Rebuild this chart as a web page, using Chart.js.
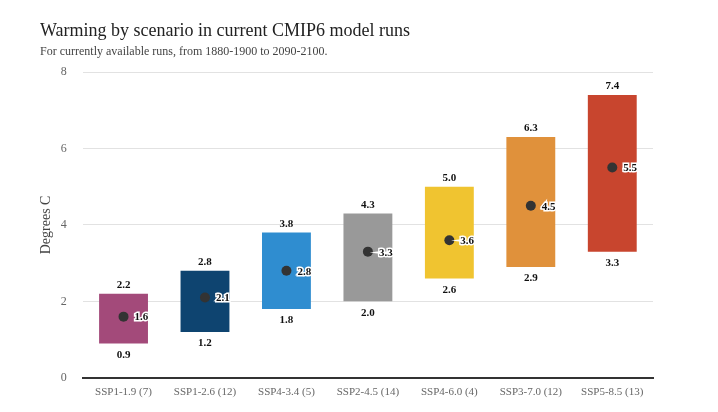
<!DOCTYPE html>
<html>
<head>
<meta charset="utf-8">
<script src="https://cdn.jsdelivr.net/npm/chart.js@4"></script>
<style>
  html, body { margin: 0; padding: 0; background: #fff; }
  #wrap { width: 718px; height: 412px; position: relative; }
</style>
</head>
<body>
<div id="wrap"><canvas id="warmingChart"></canvas></div>
<script>
const scenarios = ['SSP1-1.9 (7)', 'SSP1-2.6 (12)', 'SSP4-3.4 (5)', 'SSP2-4.5 (14)', 'SSP4-6.0 (4)', 'SSP3-7.0 (12)', 'SSP5-8.5 (13)'];
const lowValues = [0.9, 1.2, 1.8, 2.0, 2.6, 2.9, 3.3];
const highValues = [2.2, 2.8, 3.8, 4.3, 5.0, 6.3, 7.4];
const meanValues = [1.6, 2.1, 2.8, 3.3, 3.6, 4.5, 5.5];
const barColors = ['#a34a7a', '#0e4470', '#2f8dd0', '#999999', '#f0c430', '#e0913b', '#c8452e'];

const serif = '"Liberation Serif", "DejaVu Serif", serif';

// min / max / mean labels
const valueLabels = {
    id: 'valueLabels',
    afterDatasetsDraw(chart) {
        const ctx = chart.ctx;
        const bars = chart.getDatasetMeta(0).data;
        const dots = chart.getDatasetMeta(1).data;
        ctx.save();
        ctx.font = 'bold 11px ' + serif;
        ctx.textAlign = 'center';
        ctx.fillStyle = '#111';
        bars.forEach((bar, i) => {
            ctx.textBaseline = 'bottom';
            ctx.fillText(highValues[i].toFixed(1), bar.x, bar.y - 3);
            ctx.textBaseline = 'top';
            ctx.fillText(lowValues[i].toFixed(1), bar.x, bar.base + 6);
        });
        ctx.textAlign = 'left';
        ctx.textBaseline = 'middle';
        ctx.lineWidth = 3;
        ctx.strokeStyle = '#fff';
        dots.forEach((pt, i) => {
            const t = meanValues[i].toFixed(1);
            ctx.strokeText(t, pt.x + 11, pt.y + 1);
            ctx.fillText(t, pt.x + 11, pt.y + 1);
        });
        ctx.restore();
    }
};

new Chart(document.getElementById('warmingChart'), {
    type: 'bar',
    data: {
        labels: scenarios,
        datasets: [
            {
                label: 'Range',
                data: lowValues.map((v, i) => [v, highValues[i]]),
                backgroundColor: barColors,
                borderWidth: 0,
                categoryPercentage: 1,
                barPercentage: 0.6,
                order: 2
            },
            {
                type: 'line',
                label: 'Mean',
                data: meanValues,
                showLine: false,
                pointRadius: 5,
                pointHoverRadius: 5,
                pointBackgroundColor: '#333',
                pointBorderWidth: 0,
                order: 1
            }
        ]
    },
    options: {
        responsive: true,
        maintainAspectRatio: false,
        animation: false,
        layout: {
            padding: { left: 40, right: 65, top: 10, bottom: 5 }
        },
        plugins: {
            legend: { display: false },
            tooltip: { enabled: false },
            title: {
                display: true,
                text: 'Warming by scenario in current CMIP6 model runs',
                align: 'start',
                color: '#222',
                font: { family: serif, size: 18, weight: 'normal' },
                padding: { top: 10, bottom: 3 }
            },
            subtitle: {
                display: true,
                text: 'For currently available runs, from 1880-1900 to 2090-2100.',
                align: 'start',
                color: '#444',
                font: { family: serif, size: 12 },
                padding: { bottom: 13 }
            }
        },
        scales: {
            y: {
                min: 0,
                max: 8,
                ticks: {
                    stepSize: 2,
                    color: '#666',
                    font: { family: serif, size: 12 },
                    padding: 16
                },
                title: {
                    display: true,
                    text: 'Degrees C',
                    color: '#444',
                    font: { family: serif, size: 14 },
                    padding: { top: -2, bottom: -10 }
                },
                grid: {
                    color: '#e2e2e2',
                    drawTicks: false
                },
                border: { display: false }
            },
            x: {
                ticks: {
                    color: '#666',
                    font: { family: serif, size: 11 },
                    padding: 8
                },
                grid: { display: false, drawTicks: false },
                border: { color: '#333', width: 2 }
            }
        }
    },
    plugins: [valueLabels]
});
</script>
</body>
</html>
